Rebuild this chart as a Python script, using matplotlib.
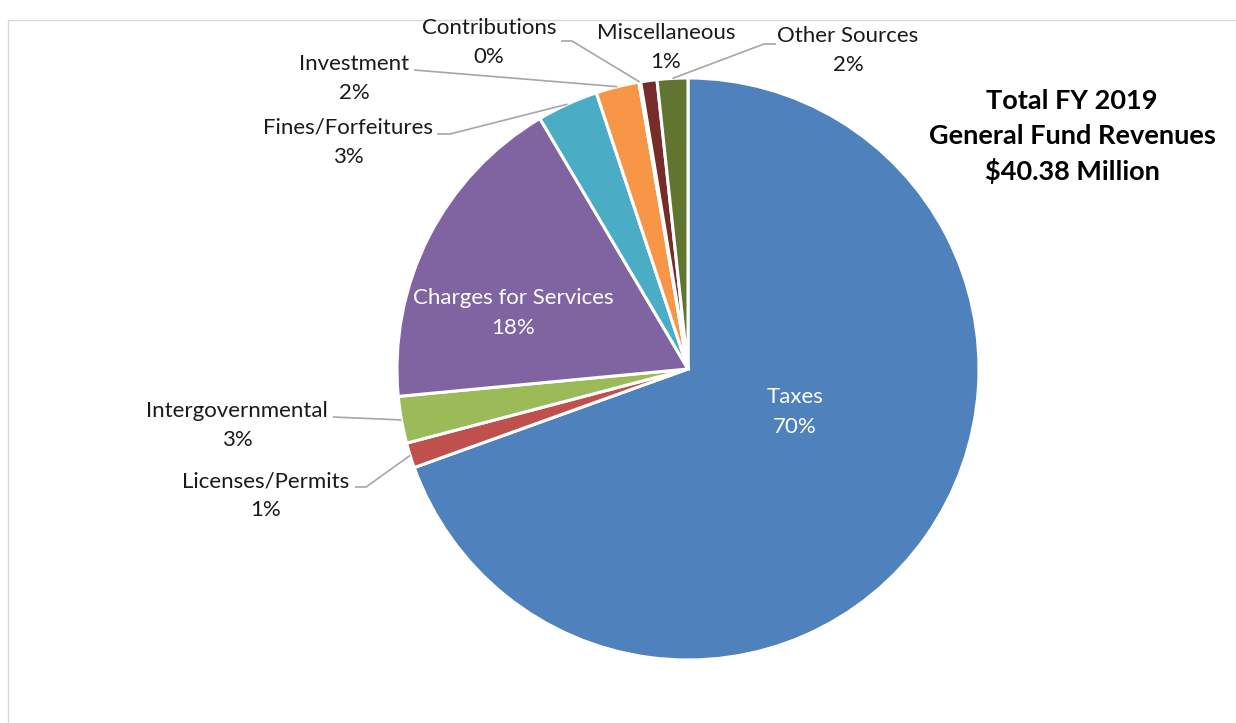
import numpy as np
import matplotlib
matplotlib.use("Agg")
from matplotlib import pyplot as plt
from matplotlib.patches import Rectangle

plt.rcParams['font.family'] = ['Lato', 'DejaVu Sans']

# FY 2019 general fund revenue shares (% of $40.38M)
categories = ["Taxes", "Licenses/Permits", "Intergovernmental", "Charges for Services",
              "Fines/Forfeitures", "Investment", "Contributions", "Miscellaneous", "Other Sources"]
shares = [69.5, 1.4, 2.6, 18.0, 3.4, 2.4, 0.1, 0.9, 1.7]
colors = ["#4F81BD", "#C0504D", "#9BBB59", "#8064A2", "#4BACC6",
          "#F79646", "#2C4D75", "#772C2A", "#5F7530"]
title_lines = ["Total FY 2019", "General Fund Revenues", "$40.38 Million"]

W, H = 1236, 723
fig = plt.figure(figsize=(W / 100, H / 100), dpi=100)
ax = fig.add_axes([0, 0, 1, 1])

# chart area frame (right/bottom run off the image)
ax.add_patch(Rectangle((8, 20), W + 20, H + 20, fill=False, ec="#D9D9D9", lw=1))

cx, cy, r = 688, 369, 291
# y axis is flipped, so counterclock=True here draws clockwise on screen
wedges, _ = ax.pie(shares, colors=colors, startangle=-90, counterclock=True,
                   center=(cx, cy), radius=r, frame=True,
                   wedgeprops=dict(edgecolor="white", linewidth=2.2))
ax.set_xlim(0, W)
ax.set_ylim(H, 0)
ax.set_aspect("equal")
ax.axis("off")

txt_color = "#1A1A1A"
lead = "#A6A6A6"
fs = 16


def pct(v):
    return "%.0f%%" % v


def edge_point(i, frac=1.0):
    w = wedges[i]
    a = np.deg2rad((w.theta1 + w.theta2) / 2)
    return cx + frac * r * np.cos(a), cy + frac * r * np.sin(a)


# inside labels
for i, (tx, ty) in {0: (795, 397), 3: (513, 298)}.items():
    ax.text(tx, ty, categories[i], color="white", fontsize=fs, ha="center", va="center")
    ax.text(tx, ty + 30, pct(shares[i]), color="white", fontsize=fs, ha="center", va="center")

# outside labels: text centre, leader start at label, optional elbow
outside = {
    1: ((266, 481), [(355, 487), (366, 487)]),
    2: ((237, 411), [(333, 417)]),
    4: ((348, 128), [(437, 134), (450, 134)]),
    5: ((354, 64), [(414, 70)]),
    6: ((489, 28), [(561, 41), (572, 41)]),
    7: ((666, 33), None),
    8: ((848, 36), [(776, 44), (764, 44)]),
}
for i, ((tx, ty), path) in outside.items():
    ax.text(tx, ty, categories[i], color=txt_color, fontsize=fs, ha="center", va="center")
    ax.text(tx, ty + 29, pct(shares[i]), color=txt_color, fontsize=fs, ha="center", va="center")
    if path:
        ex, ey = edge_point(i, 1.0)
        xs = [p[0] for p in path] + [ex]
        ys = [p[1] for p in path] + [ey]
        ax.plot(xs, ys, color=lead, lw=1.2, solid_capstyle="butt")

for k, line in enumerate(title_lines):
    ax.text(1072, 101 + k * 35, line, color="black", fontsize=19.5, fontweight="bold",
            ha="center", va="center")

fig.savefig("out.png", dpi=100)
